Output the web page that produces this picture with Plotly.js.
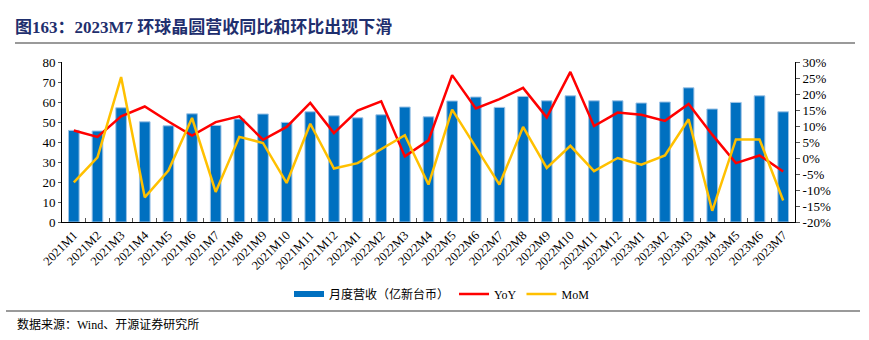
<!DOCTYPE html>
<html><head><meta charset="utf-8">
<script src="https://cdn.plot.ly/plotly-3.0.1.min.js"></script>
<style>body{margin:0;background:#fff}#chart{width:869px;height:340px}</style>
</head><body><div id="chart"></div>
<script>
const categories = ["2021M1","2021M2","2021M3","2021M4","2021M5","2021M6","2021M7","2021M8","2021M9","2021M10","2021M11","2021M12",
"2022M1","2022M2","2022M3","2022M4","2022M5","2022M6","2022M7","2022M8","2022M9","2022M10","2022M11","2022M12",
"2023M1","2023M2","2023M3","2023M4","2023M5","2023M6","2023M7"];
const revenue = [45.8,45.5,57.1,50.1,48.1,54.1,48.3,51.5,54.0,49.8,55.1,53.1,52.1,53.6,57.5,52.6,60.5,62.5,57.3,62.8,60.6,63.1,60.6,60.6,59.5,60.0,67.1,56.5,59.8,63.1,55.1];
const yoy = [8.6,6.6,13.0,16.1,11.4,7.0,11.2,13.0,5.7,9.7,17.2,7.8,14.8,17.7,0.5,5.5,25.9,15.5,18.4,21.9,12.7,26.9,10.0,14.2,13.5,11.6,16.9,7.3,-1.6,0.8,-4.2];
const mom = [-7.6,0.2,25.3,-12.3,-3.9,12.5,-10.6,6.6,4.7,-7.8,10.7,-3.3,-1.6,2.8,7.1,-8.3,15.1,3.4,-8.3,9.7,-3.1,3.8,-4.1,0.0,-2.1,0.8,12.1,-16.5,5.8,5.8,-13.3];
const leftTicks = [0,10,20,30,40,50,60,70,80];
const rightTicks = [-20,-15,-10,-5,0,5,10,15,20,25,30];
const seriesNames = ['月度营收（亿新台币）','YoY','MoM'];

const serif = "'Liberation Serif','Times New Roman',serif";
const cjk = "'Liberation Serif','Noto Sans CJK SC',serif";

const traces = [
  {type:'bar', x:categories, y:revenue, name:seriesNames[0], showlegend:false,
   marker:{color:'#0070C0', line:{color:'#9DC3E6', width:1}}, yaxis:'y'},
  // legend swatch for the bar series (wide rectangle as in the reference)
  {type:'scatter', mode:'lines', x:[categories[0]], y:[null], name:seriesNames[0],
   line:{color:'#0070C0', width:6}, yaxis:'y', hoverinfo:'skip'},
  {type:'scatter', mode:'lines', x:categories, y:yoy, name:seriesNames[1],
   line:{color:'#FF0000', width:2.5}, yaxis:'y2'},
  {type:'scatter', mode:'lines', x:categories, y:mom, name:seriesNames[2],
   line:{color:'#FFC000', width:2.5}, yaxis:'y2'}
];

const layout = {
  width:869, height:340,
  margin:{l:62, r:74, t:62, b:118},
  paper_bgcolor:'#fff', plot_bgcolor:'#fff',
  bargap:0.55,
  showlegend:true,
  title:{text:'<b>图163：2023M7 环球晶圆营收同比和环比出现下滑</b>',
    x:15/869, xanchor:'left', xref:'container', y:1-27/340, yanchor:'middle', yref:'container',
    font:{family:cjk, size:17, color:'#1F2F6E'}},
  xaxis:{type:'category', tickangle:-45, showline:true, linecolor:'#000', linewidth:1,
    ticks:'inside', ticklen:4, tickcolor:'#555', tickson:'boundaries', showgrid:false,
    tickfont:{family:serif, size:12.5, color:'#000'}, fixedrange:true},
  yaxis:{range:[0,80], tickvals:leftTicks, showline:true, linecolor:'#000', linewidth:1,
    ticks:'outside', ticklen:3, tickcolor:'#555', showgrid:false, zeroline:false,
    tickfont:{family:serif, size:13, color:'#000'}},
  yaxis2:{range:[-20,30], tickvals:rightTicks, ticktext:rightTicks.map(v=>v+'%'), overlaying:'y', side:'right',
    showline:true, linecolor:'#000', linewidth:1, ticks:'outside', ticklen:4, tickcolor:'#555',
    showgrid:false, zeroline:false, tickfont:{family:serif, size:13, color:'#000'}},
  legend:{orientation:'h', x:(442-62)/733, xanchor:'center', y:(222-294)/160, yanchor:'middle',
    font:{family:cjk, size:12, color:'#000'}, bgcolor:'rgba(0,0,0,0)', traceorder:'normal'},
  shapes:[
    {type:'line', xref:'paper', yref:'paper', x0:-47/733, x1:793/733, y0:(222-43)/160, y1:(222-43)/160,
     line:{color:'#9a9a9a', width:2}},
    {type:'line', xref:'paper', yref:'paper', x0:-56/733, x1:798/733, y0:(222-311)/160, y1:(222-311)/160,
     line:{color:'#9a9a9a', width:2}}
  ],
  annotations:[
    {text:'数据来源：Wind、开源证券研究所', xref:'paper', yref:'paper', x:-47/733, xanchor:'left',
     y:(222-324)/160, yanchor:'middle', showarrow:false, font:{family:cjk, size:12, color:'#000'}}
  ]
};
Plotly.newPlot('chart', traces, layout, {displayModeBar:false, staticPlot:true});
</script></body></html>
